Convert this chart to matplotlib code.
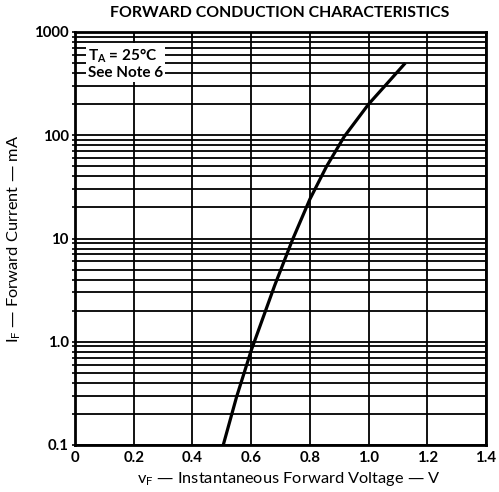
import numpy as np
import matplotlib
matplotlib.use('Agg')
import matplotlib.pyplot as plt
from matplotlib.ticker import FixedLocator, NullFormatter

# forward voltage (V) vs forward current (mA)
vf = [0.505, 0.55, 0.60, 0.68, 0.74, 0.80, 0.857, 0.917, 1.00, 1.06, 1.125]
i_f = [0.1, 0.29, 0.82, 3.5, 9.6, 24, 50, 97, 200, 310, 500]

xticks = [0, 0.2, 0.4, 0.6, 0.8, 1.0, 1.2, 1.4]
xticklabels = ['0', '0.2', '0.4', '0.6', '0.8', '1.0', '1.2', '1.4']
yticks = [0.1, 1, 10, 100, 1000]
yticklabels = ['0.1', '1.0', '10', '100', '1000']

plt.rcParams['font.family'] = ['Lato', 'DejaVu Sans']
plt.rcParams['font.weight'] = 'bold'
plt.rcParams['mathtext.default'] = 'regular'

fig = plt.figure(figsize=(4.99, 4.92), dpi=100)
ax = fig.add_axes([75/499, 1-445/492, (486-75)/499, (445-32)/492])

ax.set_yscale('log')
ax.set_xlim(0, 1.4)
ax.set_ylim(0.1, 1000)

# log grid: every 1..9 of each decade
minor = [m * 10.0**d for d in range(-1, 3) for m in range(2, 10)]
ax.yaxis.set_major_locator(FixedLocator(yticks))
ax.yaxis.set_minor_locator(FixedLocator(minor))
ax.yaxis.set_minor_formatter(NullFormatter())
ax.set_yticklabels(yticklabels)
ax.set_xticks(xticks)
ax.set_xticklabels(xticklabels)

ax.grid(True, which='both', axis='y', color='black', linewidth=1.3)
ax.grid(True, which='major', axis='x', color='black', linewidth=1.3)

ax.tick_params(axis='y', which='both', direction='out', length=2.5, width=1.2,
               labelsize=10.8, pad=2)
ax.tick_params(axis='x', which='both', length=0, labelsize=10.8, pad=4)
for s in ax.spines.values():
    s.set_linewidth(2.0)

ax.plot(vf, i_f, color='black', linewidth=2.3, solid_capstyle='butt',
        solid_joinstyle='round', zorder=5)

ax.text(0.032, 0.965, '$T_A$ = 25°C\nSee Note 6', transform=ax.transAxes,
        fontsize=11, va='top', ha='left', linespacing=1.1,
        bbox=dict(facecolor='white', edgecolor='none', pad=1.5), zorder=6)

fig.text(280/499, 1-13/492, 'FORWARD CONDUCTION CHARACTERISTICS',
         ha='center', va='center', fontsize=11.4)
ax.set_xlabel('$v_F$ — Instantaneous Forward Voltage — V', fontsize=11.8)
ax.xaxis.set_label_coords((289-75)/411, -0.06)
ax.set_ylabel('$I_F$ — Forward Current — mA', fontsize=11.8, labelpad=8)

fig.savefig('out.png', dpi=100)
